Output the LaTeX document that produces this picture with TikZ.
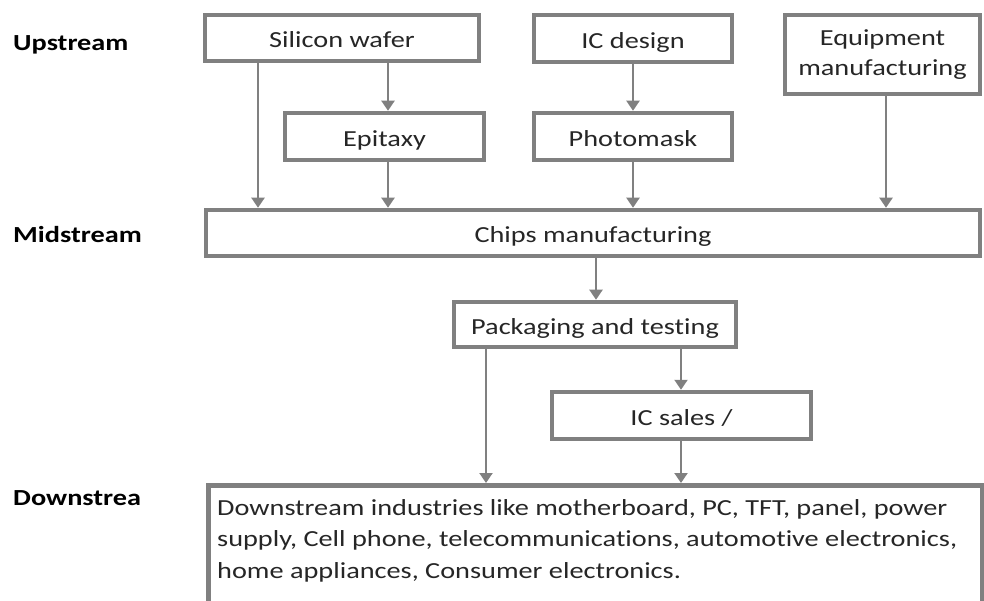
\documentclass[tikz,border=0pt]{standalone}
\usepackage{fontspec}
\setmainfont{Carlito}[FakeStretch=1.23, Ligatures={NoCommon}]
\usetikzlibrary{arrows.meta}
\definecolor{boxgray}{HTML}{808080}
\definecolor{txt}{HTML}{262626}
\begin{document}
\begin{tikzpicture}[x=1pt,y=-1pt,
  box/.style={draw=boxgray, line width=4.5pt, rectangle, inner sep=0pt, text=txt,
    font=\fontsize{23}{30}\selectfont, align=center},
  onebox/.style={box, text height=20pt, text depth=0pt},
  lab/.style={anchor=west, font=\fontsize{23}{28}\selectfont\bfseries, text=black, inner sep=0pt},
  arr/.style={draw=boxgray, line width=2pt, -{Triangle[width=13pt,length=10pt]}}]
\useasboundingbox (0,0) rectangle (984,601);
\clip (0,0) rectangle (984,601);
\fill[white] (0,0) rectangle (984,601);

% level labels
\node[lab] (up) at (13,45) {Upstream};
\node[lab] (mid) at (13,235) {Midstream};
\node[lab] (dn) at (13,498) {Downstrea};

% boxes
\node[onebox, minimum width=274pt, minimum height=46pt] (sw) at (342,38) {Silicon wafer};
\node[onebox, minimum width=198pt, minimum height=47pt] (icd) at (633,38.5) {IC design};
\node[box, minimum width=195pt, minimum height=79pt] (eq) at (882.5,54.5) {Equipment\\manufacturing};
\node[onebox, minimum width=199pt, minimum height=47pt] (epi) at (384.5,136.5) {Epitaxy};
\node[onebox, minimum width=198pt, minimum height=47pt] (pm) at (633,136.5) {Photomask};
\node[onebox, minimum width=774pt, minimum height=46pt] (chips) at (593,233) {Chips manufacturing};
\node[onebox, minimum width=282pt, minimum height=45pt] (pk) at (595,324.5) {Packaging and testing};
\node[onebox, minimum width=259pt, minimum height=47pt] (ics) at (681.5,415.5) {IC sales /};
\node[box, anchor=north west, minimum width=774pt, minimum height=170pt] (down) at (206,483) {};
\node[anchor=north west, align=left, inner sep=0pt, text=txt,
  font=\fontsize{23}{31.5}\selectfont] (dtext) at (217,499)
  {Downstream industries like motherboard, PC, TFT, panel, power\\
   supply, Cell phone, telecommunications, automotive electronics,\\
   home appliances, Consumer electronics.};

% connector columns
\coordinate (xa) at (258,0);
\coordinate (xb) at (388,0);
\coordinate (xc) at (633,0);
\coordinate (xd) at (886,0);
\coordinate (xe) at (596,0);
\coordinate (xf) at (486,0);
\coordinate (xg) at (681,0);

\draw[arr] (sw.south -| xa) -- (chips.north -| xa);
\draw[arr] (sw.south -| xb) -- (epi.north -| xb);
\draw[arr] (epi.south -| xb) -- (chips.north -| xb);
\draw[arr] (icd.south -| xc) -- (pm.north -| xc);
\draw[arr] (pm.south -| xc) -- (chips.north -| xc);
\draw[arr] (eq.south -| xd) -- (chips.north -| xd);
\draw[arr] (chips.south -| xe) -- (pk.north -| xe);
\draw[arr] (pk.south -| xf) -- (down.north -| xf);
\draw[arr] (pk.south -| xg) -- (ics.north -| xg);
\draw[arr] (ics.south -| xg) -- (down.north -| xg);
\end{tikzpicture}
\end{document}
